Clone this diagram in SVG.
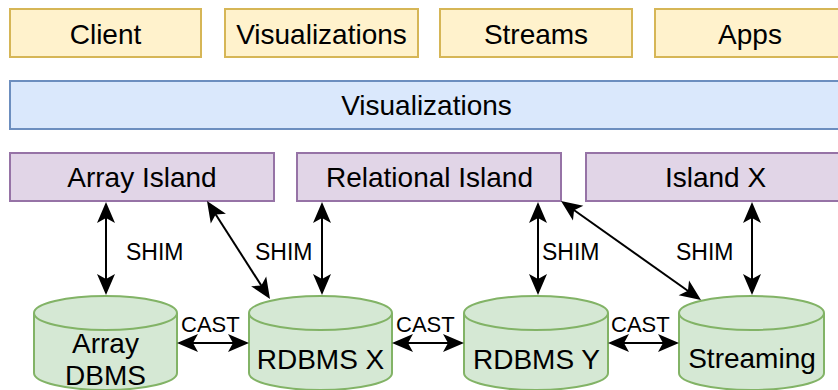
<svg xmlns="http://www.w3.org/2000/svg" xmlns:xlink="http://www.w3.org/1999/xlink" width="838" height="390" viewBox="0 0 838 390">
<style>
text{font-family:"Liberation Sans",Arial,Helvetica,sans-serif;fill:#000}
.t{font-size:28px;text-anchor:middle}
.l{font-size:23px}
.c{font-size:22px}
.app{fill:#fff2cc;stroke:#d6b656;stroke-width:2}
.vis{fill:#dae8fc;stroke:#6c8ebf;stroke-width:2}
.isl{fill:#e1d5e7;stroke:#9673a6;stroke-width:2}
.db{fill:#d5e8d4;stroke:#82b366;stroke-width:2}
.edge{stroke:#000;stroke-width:2;fill:none}
</style>
<defs>
<path id="head" d="M0,0 L-21,-9 L-16,0 L-21,9 Z" fill="#000"/>
</defs>
<rect width="838" height="390" fill="#fff"/>
<g id="client"><rect class="app" x="10" y="9" width="191" height="48"/><text class="t" x="105.5" y="44">Client</text></g>
<g id="visualizations-app"><rect class="app" x="225" y="9" width="193" height="48"/><text class="t" x="321.5" y="44">Visualizations</text></g>
<g id="streams"><rect class="app" x="440" y="9" width="192" height="48"/><text class="t" x="536" y="44">Streams</text></g>
<g id="apps"><rect class="app" x="655" y="9" width="192" height="48"/><text class="t" x="750" y="44">Apps</text></g>
<g id="visualizations-bar"><rect class="vis" x="10" y="81" width="833" height="48"/><text class="t" x="426.5" y="115">Visualizations</text></g>
<g id="array-island"><rect class="isl" x="10" y="153" width="264" height="48"/><text class="t" x="142" y="187">Array Island</text></g>
<g id="relational-island"><rect class="isl" x="297" y="153" width="264" height="48"/><text class="t" x="429.5" y="187">Relational Island</text></g>
<g id="island-x"><rect class="isl" x="586" y="153" width="260" height="48"/><text class="t" x="715.5" y="187">Island X</text></g>
<g id="array-dbms"><path class="db" d="M34,313 A71.5,17 0 0 1 177,313 L177,373 A71.5,17 0 0 1 34,373 Z"/><path class="db" fill="none" d="M34,313 A71.5,17 0 0 0 177,313"/><text class="t" x="105.5" y="353">Array</text><text class="t" x="105.5" y="385">DBMS</text></g>
<g id="rdbms-x"><path class="db" d="M249,313 A71.5,17 0 0 1 392,313 L392,373 A71.5,17 0 0 1 249,373 Z"/><path class="db" fill="none" d="M249,313 A71.5,17 0 0 0 392,313"/><text class="t" x="320.5" y="369">RDBMS X</text></g>
<g id="rdbms-y"><path class="db" d="M464,313 A72,17 0 0 1 608,313 L608,373 A72,17 0 0 1 464,373 Z"/><path class="db" fill="none" d="M464,313 A72,17 0 0 0 608,313"/><text class="t" x="536.5" y="369">RDBMS Y</text></g>
<g id="streaming"><path class="db" d="M679,313 A72.5,17 0 0 1 824,313 L824,373 A72.5,17 0 0 1 679,373 Z"/><path class="db" fill="none" d="M679,313 A72.5,17 0 0 0 824,313"/><text class="t" x="752" y="368">Streaming</text></g>
<g id="connectors">
<line class="edge" x1="106" y1="206" x2="106" y2="291"/>
<use xlink:href="#head" href="#head" transform="translate(106,202) rotate(-90)"/>
<use xlink:href="#head" href="#head" transform="translate(106,295) rotate(90)"/>
<line class="edge" x1="209" y1="204" x2="268" y2="296"/>
<use xlink:href="#head" href="#head" transform="translate(207,201) rotate(237.26)"/>
<use xlink:href="#head" href="#head" transform="translate(270,299) rotate(57.26)"/>
<line class="edge" x1="322" y1="206" x2="322" y2="291"/>
<use xlink:href="#head" href="#head" transform="translate(322,202) rotate(-90)"/>
<use xlink:href="#head" href="#head" transform="translate(322,295) rotate(90)"/>
<line class="edge" x1="538" y1="206" x2="538" y2="291"/>
<use xlink:href="#head" href="#head" transform="translate(538,202) rotate(-90)"/>
<use xlink:href="#head" href="#head" transform="translate(538,295) rotate(90)"/>
<line class="edge" x1="564" y1="203" x2="698" y2="298"/>
<use xlink:href="#head" href="#head" transform="translate(561,201) rotate(215.27)"/>
<use xlink:href="#head" href="#head" transform="translate(701,300) rotate(35.27)"/>
<line class="edge" x1="752" y1="206" x2="752" y2="291"/>
<use xlink:href="#head" href="#head" transform="translate(752,202) rotate(-90)"/>
<use xlink:href="#head" href="#head" transform="translate(752,295) rotate(90)"/>
<line class="edge" x1="181" y1="343" x2="245" y2="343"/>
<use xlink:href="#head" href="#head" transform="translate(177,343) rotate(180)"/>
<use xlink:href="#head" href="#head" transform="translate(249,343)"/>
<line class="edge" x1="396" y1="343" x2="460" y2="343"/>
<use xlink:href="#head" href="#head" transform="translate(392,343) rotate(180)"/>
<use xlink:href="#head" href="#head" transform="translate(464,343)"/>
<line class="edge" x1="612" y1="343" x2="675" y2="343"/>
<use xlink:href="#head" href="#head" transform="translate(608,343) rotate(180)"/>
<use xlink:href="#head" href="#head" transform="translate(679,343)"/>
<text class="l" x="126" y="260">SHIM</text>
<text class="l" x="255" y="260">SHIM</text>
<text class="l" x="542" y="260">SHIM</text>
<text class="l" x="676" y="260">SHIM</text>
<text class="c" x="181" y="332">CAST</text>
<text class="c" x="396" y="332">CAST</text>
<text class="c" x="611" y="332">CAST</text>
</g>
</svg>
